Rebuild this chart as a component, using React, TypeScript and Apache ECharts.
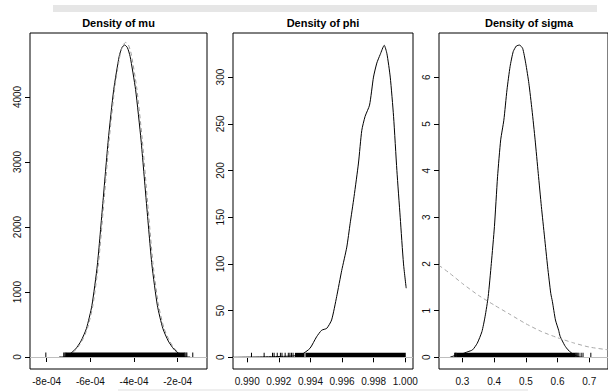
import React, { useEffect, useRef } from "react";
import * as echarts from "echarts";

// ---------- Data ----------
// Panel 1: Density of mu
const muX = [-7.43e-4, -7.18e-4, -6.93e-4, -6.68e-4, -6.43e-4, -6.18e-4, -5.93e-4, -5.68e-4, -5.43e-4, -5.18e-4, -4.93e-4, -4.68e-4, -4.555e-4, -4.43e-4, -4.305e-4, -4.18e-4, -3.93e-4, -3.68e-4, -3.43e-4, -3.18e-4, -2.93e-4, -2.68e-4, -2.43e-4, -2.18e-4, -1.93e-4, -1.68e-4, -1.43e-4];
const muDens = [0, 5, 50, 122, 245, 439, 790, 1416, 2362, 3340, 4115, 4625, 4760, 4800, 4760, 4625, 4115, 3340, 2362, 1416, 790, 439, 245, 122, 50, 5, 0];
const muAltX = [-7.38e-4, -7.13e-4, -6.88e-4, -6.63e-4, -6.38e-4, -6.13e-4, -5.88e-4, -5.63e-4, -5.38e-4, -5.13e-4, -4.88e-4, -4.63e-4, -4.505e-4, -4.38e-4, -4.255e-4, -4.13e-4, -3.88e-4, -3.63e-4, -3.38e-4, -3.13e-4, -2.88e-4, -2.63e-4, -2.38e-4, -2.13e-4, -1.88e-4, -1.63e-4, -1.38e-4];
const muAltDens = [0, 6, 52, 125, 250, 445, 800, 1430, 2385, 3370, 4150, 4665, 4800, 4840, 4800, 4665, 4150, 3370, 2385, 1430, 800, 445, 250, 125, 52, 6, 0];
const muRugBands = [[-7.10e-4, -1.70e-4]];
const muRugTicks = [-8.04e-4, -7.22e-4, -7.17e-4, -7.13e-4, -1.67e-4, -1.62e-4, -1.58e-4, -1.31e-4];
const muXTicks = [-8e-4, -6e-4, -4e-4, -2e-4];
const muXLabels = ["-8e-04", "-6e-04", "-4e-04", "-2e-04"];
const muYTicks = [0, 1000, 2000, 3000, 4000];

// Panel 2: Density of phi
const phiX = [0.989, 0.9905, 0.9918, 0.9928, 0.99312, 0.99344, 0.99397, 0.99439, 0.99471, 0.99503, 0.99534, 0.99566, 0.99598, 0.9963, 0.99651, 0.99676, 0.99704, 0.99725, 0.99746, 0.99774, 0.99799, 0.9982, 0.99841, 0.99867, 0.99884, 0.99905, 0.99926, 0.99947, 0.99968, 0.99989, 1.00006];
const phiDens = [0, 0.3, 0.8, 1.3, 1.8, 3, 9.6, 22, 29, 31, 40, 65, 93, 118, 143, 172, 208, 243, 258, 270, 300, 315, 324, 334, 325, 300, 258, 200, 150, 100, 74];
const phiRugBands = [[0.99305, 0.99357], [0.99375, 1.0]];
const phiRugTicks = [0.99027, 0.99107, 0.9916, 0.9917, 0.9919, 0.9921, 0.9922, 0.9924, 0.9926, 0.9927, 0.9928, 0.9929, 0.99366];
const phiXTicks = [0.99, 0.992, 0.994, 0.996, 0.998, 1.0];
const phiXLabels = ["0.990", "0.992", "0.994", "0.996", "0.998", "1.000"];
const phiYTicks = [0, 50, 100, 150, 200, 250, 300];

// Panel 3: Density of sigma
const sigX = [0.26, 0.2774, 0.2971, 0.3169, 0.3317, 0.3465, 0.3613, 0.3712, 0.3811, 0.391, 0.4008, 0.4107, 0.4206, 0.4305, 0.4404, 0.4502, 0.4601, 0.47, 0.4799, 0.4898, 0.4996, 0.5095, 0.5194, 0.5292, 0.5391, 0.549, 0.5589, 0.5687, 0.5786, 0.5836, 0.5934, 0.6034, 0.6082, 0.623, 0.633, 0.6428, 0.6527, 0.665, 0.68];
const sigDens = [0, 0.04, 0.07, 0.12, 0.16, 0.3, 0.55, 0.87, 1.3, 2.01, 2.8, 3.87, 4.66, 5.08, 5.73, 6.23, 6.55, 6.67, 6.69, 6.62, 6.3, 5.87, 5.3, 4.66, 3.94, 3.23, 2.58, 1.94, 1.37, 1.2, 0.8, 0.58, 0.45, 0.25, 0.16, 0.1, 0.05, 0.015, 0];
const sigPriorX = [0.2259, 0.26, 0.3, 0.35, 0.4, 0.45, 0.5, 0.55, 0.6, 0.65, 0.7, 0.76];
const sigPriorDens = [1.97, 1.8, 1.58, 1.33, 1.12, 0.92, 0.72, 0.55, 0.42, 0.31, 0.22, 0.16];
const sigRugBands = [[0.283, 0.656]];
const sigRugTicks = [0.2754, 0.2774, 0.279, 0.2805, 0.6585, 0.661, 0.664, 0.6674, 0.6745, 0.6804, 0.705];
const sigXTicks = [0.3, 0.4, 0.5, 0.6, 0.7];
const sigXLabels = ["0.3", "0.4", "0.5", "0.6", "0.7"];
const sigYTicks = [0, 1, 2, 3, 4, 5, 6];

const titles = ["Density of mu", "Density of phi", "Density of sigma"];

// ---------- Layout ----------
const FONT = "Liberation Sans, Arial, sans-serif";
const panels = [
  { left: 30, width: 177, xmin: -8.765e-4, xmax: -0.658e-4, ymin: -184.6, ymax: 4984.6 },
  { left: 233, width: 180, xmin: 0.9891, xmax: 1.00049, ymin: -12.5, ymax: 347.2 },
  { left: 439, width: 180, xmin: 0.2259, xmax: 0.7592, ymin: -0.25, ymax: 6.949 },
];
const TOP = 33;
const HEIGHT = 336;

const pairs = (xs: number[], ys: number[]) => xs.map((x, i) => [x, ys[i]]);
const rugData = (bands: number[][], ticks: number[]) => [
  ...bands.map((b) => [b[0], b[1], 0]),
  ...ticks.map((t) => [t, t, 0]),
];
const labelFor = (vals: number[], labels: string[]) => (v: number) => {
  let best = 0;
  for (let i = 1; i < vals.length; i++) {
    if (Math.abs(vals[i] - v) < Math.abs(vals[best] - v)) best = i;
  }
  return labels[best];
};

export default function App() {
  const ref = useRef<HTMLDivElement>(null);
  useEffect(() => {
    if (!ref.current) return;
    const chart = echarts.init(ref.current, undefined, { renderer: "svg" });

    const xTicks = [muXTicks, phiXTicks, sigXTicks];
    const xLabels = [muXLabels, phiXLabels, sigXLabels];
    const yTicks = [muYTicks, phiYTicks, sigYTicks];

    const grid = panels.map((p) => ({
      left: p.left,
      top: TOP,
      width: p.width,
      height: HEIGHT,
      show: true,
      borderColor: "#000",
      borderWidth: 1,
      backgroundColor: "transparent",
    }));

    const xAxis = panels.map((p, i) => ({
      type: "value",
      gridIndex: i,
      min: p.xmin,
      max: p.xmax,
      axisLine: { show: false },
      splitLine: { show: false },
      axisTick: { show: true, customValues: xTicks[i], length: 5, lineStyle: { color: "#000", width: 1 } },
      axisLabel: {
        customValues: xTicks[i],
        formatter: labelFor(xTicks[i], xLabels[i]),
        margin: 7,
        fontSize: 10,
        color: "#111",
        fontFamily: FONT,
      },
    }));

    const yAxis = panels.map((p, i) => ({
      type: "value",
      gridIndex: i,
      min: p.ymin,
      max: p.ymax,
      axisLine: { show: false },
      splitLine: { show: false },
      axisTick: { show: true, customValues: yTicks[i], length: 5, lineStyle: { color: "#000", width: 1 } },
      axisLabel: {
        customValues: yTicks[i],
        formatter: (v: number) => String(Math.round(v)),
        rotate: 90,
        margin: 8,
        fontSize: 10,
        color: "#111",
        fontFamily: FONT,
      },
    }));

    const rugRender = (params: any, api: any) => {
      const a = api.coord([api.value(0), 0]);
      const b = api.coord([api.value(1), 0]);
      return {
        type: "rect",
        shape: { x: a[0] - 0.5, y: a[1] - 4.5, width: Math.max(b[0] - a[0] + 1, 1), height: 4.5 },
        style: { fill: "#000" },
      };
    };

    const baseline = (i: number) => ({
      type: "line",
      xAxisIndex: i,
      yAxisIndex: i,
      data: [],
      markLine: {
        silent: true,
        symbol: "none",
        label: { show: false },
        lineStyle: { color: "#bebebe", type: "solid", width: 1 },
        data: [{ yAxis: 0 }],
      },
      z: 1,
    });

    const curve = (i: number, data: number[][], color: string, dashed: boolean, z: number) => ({
      type: "line",
      xAxisIndex: i,
      yAxisIndex: i,
      data,
      showSymbol: false,
      symbol: "none",
      smooth: 0.2,
      lineStyle: { color, width: 1, type: dashed ? [4, 3] : "solid" },
      z,
    });

    const rug = (i: number, data: number[][]) => ({
      type: "custom",
      xAxisIndex: i,
      yAxisIndex: i,
      data,
      encode: { x: [0, 1], y: 2 },
      renderItem: rugRender,
      z: 4,
    });

    const series = [
      baseline(0),
      curve(0, pairs(muX, muDens), "#000", false, 3),
      curve(0, pairs(muAltX, muAltDens), "#9a9a9a", true, 3),
      rug(0, rugData(muRugBands, muRugTicks)),
      baseline(1),
      curve(1, pairs(phiX, phiDens), "#000", false, 3),
      rug(1, rugData(phiRugBands, phiRugTicks)),
      baseline(2),
      curve(2, pairs(sigX, sigDens), "#000", false, 3),
      curve(2, pairs(sigPriorX, sigPriorDens), "#a8a8a8", true, 3),
      rug(2, rugData(sigRugBands, sigRugTicks)),
    ];

    const graphic = [
      { type: "rect", shape: { x: 53, y: 5, width: 544, height: 7 }, style: { fill: "#e6e6e6" }, z: 0 },
      { type: "rect", shape: { x: 118, y: 389, width: 410, height: 2 }, style: { fill: "#efefef" }, z: 0 },
      ...panels.map((p, i) => ({
        type: "text",
        x: p.left + p.width / 2,
        y: 23,
        style: {
          text: titles[i],
          textAlign: "center",
          textVerticalAlign: "middle",
          font: `bold 11px ${FONT}`,
          fill: "#000",
        },
        z: 10,
      })),
    ];

    chart.setOption({
      animation: false,
      backgroundColor: "#fff",
      grid,
      xAxis,
      yAxis,
      series,
      graphic,
    } as any);

    return () => chart.dispose();
  }, []);

  return (
    <div
      ref={ref}
      style={{ position: "absolute", left: 0, top: 0, width: 608, height: 392, background: "#fff" }}
    />
  );
}
